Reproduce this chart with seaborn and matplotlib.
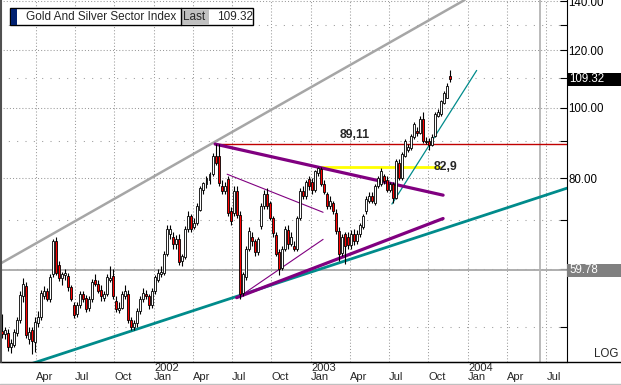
import pandas as pd
import seaborn as sns
import matplotlib.pyplot as plt
import matplotlib.dates as mdates
from matplotlib.patches import Rectangle
from matplotlib.lines import Line2D
from matplotlib.ticker import NullLocator
import matplotlib.transforms as mtrans

# weekly candles, Gold And Silver Sector Index (XAU)
weeks = pd.date_range("2001-01-12", periods=150, freq="7D")

opens = [49.3, 48.8, 49.0, 46.9, 47.2, 49.0, 51.0, 55.0, 56.8, 48.0,
         49.4, 47.6, 50.5, 51.5, 55.0, 55.9, 54.6, 59.0, 65.5, 60.8,
         58.3, 58.8, 58.6, 56.6, 53.5, 52.0, 53.5, 55.4, 54.8, 53.0,
         54.5, 58.0, 57.3, 56.2, 54.8, 55.5, 58.0, 58.6, 54.3, 52.7,
         53.0, 55.0, 55.4, 51.0, 50.0, 50.5, 52.5, 54.5, 55.5, 55.0,
         53.5, 56.0, 58.0, 59.0, 59.2, 62.9, 67.0, 66.5, 64.9, 66.0,
         61.5, 62.4, 68.0, 70.9, 68.5, 69.5, 72.4, 77.0, 78.5, 79.5,
         81.0, 85.8, 85.8, 78.0, 76.8, 79.8, 72.0, 71.6, 76.8, 71.3,
         55.7, 58.5, 64.0, 66.5, 65.5, 63.4, 68.7, 73.2, 76.0, 73.9,
         70.5, 66.9, 63.4, 60.2, 64.0, 67.8, 65.0, 64.5, 64.0, 70.5,
         76.8, 75.5, 79.8, 79.0, 77.0, 81.3, 82.3, 78.5, 76.0, 73.2,
         73.9, 71.6, 67.6, 63.2, 67.0, 66.5, 64.8, 67.0, 65.5, 67.0,
         68.5, 72.0, 74.5, 75.6, 74.0, 78.0, 78.5, 80.5, 79.5, 77.0,
         78.5, 75.1, 84.0, 80.0, 85.8, 87.5, 88.0, 91.0, 93.0, 92.3,
         96.6, 90.0, 90.0, 88.8, 91.5, 97.5, 98.0, 101.5, 103.2, 110.7]
highs = [52.0, 50.0, 49.6, 48.0, 49.6, 51.5, 56.0, 58.3, 57.5, 50.0,
         50.0, 51.5, 52.5, 56.2, 56.8, 56.5, 59.0, 66.0, 66.3, 61.5,
         59.5, 60.0, 59.2, 57.0, 54.0, 54.0, 56.0, 56.0, 55.2, 55.0,
         58.2, 59.0, 58.0, 57.0, 56.0, 59.0, 60.5, 60.0, 55.0, 54.0,
         56.0, 57.0, 56.2, 51.5, 51.0, 53.0, 55.0, 56.5, 56.2, 55.5,
         56.5, 58.8, 60.0, 60.5, 63.5, 69.0, 69.0, 67.5, 66.8, 67.0,
         63.0, 68.8, 72.0, 71.5, 70.5, 74.0, 78.0, 79.0, 80.5, 81.5,
         86.5, 89.11, 89.0, 79.5, 79.0, 80.5, 73.0, 78.0, 78.0, 72.0,
         59.5, 64.5, 68.5, 67.5, 66.0, 66.5, 74.0, 77.0, 77.5, 74.5,
         71.0, 67.5, 64.0, 64.5, 68.8, 69.0, 67.5, 65.5, 71.0, 77.5,
         78.0, 79.5, 80.5, 80.0, 82.2, 82.9, 82.8, 79.5, 76.5, 75.5,
         74.5, 72.5, 68.5, 67.0, 67.5, 67.5, 67.8, 68.0, 67.8, 69.5,
         71.5, 75.5, 76.5, 76.5, 78.5, 80.5, 82.5, 81.0, 80.5, 79.0,
         79.0, 85.0, 85.0, 87.0, 90.5, 89.0, 92.0, 95.5, 94.0, 97.5,
         98.5, 91.0, 90.8, 92.0, 98.5, 99.5, 102.5, 105.5, 108.0, 112.5]
lows = [48.3, 48.0, 46.3, 46.0, 46.8, 48.5, 50.5, 54.0, 48.3, 47.3,
        45.8, 46.1, 50.0, 51.0, 54.5, 54.2, 54.0, 58.5, 58.8, 57.8,
        57.0, 58.0, 56.0, 54.2, 51.3, 51.5, 53.0, 54.0, 52.4, 52.5,
        54.0, 56.8, 55.6, 54.3, 54.2, 55.0, 57.5, 54.5, 52.4, 52.2,
        52.8, 54.5, 50.6, 49.5, 49.5, 50.0, 52.0, 54.0, 54.5, 52.8,
        53.0, 55.5, 57.5, 58.5, 58.8, 62.5, 66.0, 64.0, 64.0, 60.8,
        60.5, 62.0, 67.5, 67.5, 68.0, 69.0, 72.0, 76.0, 77.5, 78.5,
        80.5, 83.5, 78.0, 76.0, 76.0, 71.0, 69.0, 71.0, 70.5, 54.6,
        55.0, 58.0, 63.5, 64.5, 62.5, 62.8, 68.0, 72.5, 72.5, 70.0,
        66.5, 62.5, 58.8, 59.8, 63.5, 64.0, 64.5, 63.5, 63.5, 70.0,
        75.0, 75.0, 77.0, 76.0, 76.5, 80.5, 78.0, 76.0, 72.5, 72.5,
        71.5, 67.0, 61.5, 62.5, 61.0, 64.0, 64.0, 64.8, 65.0, 66.5,
        68.0, 71.5, 74.0, 74.0, 73.5, 77.5, 78.0, 78.5, 76.5, 76.5,
        74.0, 75.0, 79.5, 79.5, 85.5, 87.0, 87.5, 90.5, 91.5, 92.0,
        89.5, 89.0, 87.5, 88.5, 91.0, 97.0, 97.5, 101.0, 103.0, 108.5]
closes = [48.8, 49.4, 46.9, 47.4, 49.2, 51.0, 55.3, 57.3, 48.7, 49.2,
          47.8, 50.8, 51.5, 55.7, 55.9, 54.6, 58.5, 65.5, 59.2, 58.3,
          59.0, 59.3, 56.6, 54.6, 51.9, 53.5, 55.4, 54.6, 52.9, 54.5,
          57.6, 57.3, 56.0, 55.0, 55.5, 58.5, 58.4, 55.0, 52.9, 53.0,
          55.5, 56.0, 51.0, 50.0, 50.6, 52.5, 54.6, 55.7, 55.0, 53.5,
          56.0, 58.5, 59.2, 59.5, 62.9, 68.2, 68.0, 64.9, 66.0, 61.4,
          62.5, 68.0, 70.9, 68.2, 69.5, 73.2, 77.5, 78.7, 80.0, 81.0,
          85.8, 84.0, 78.8, 76.8, 78.0, 71.6, 69.8, 76.8, 71.3, 55.4,
          59.0, 64.0, 67.6, 65.5, 63.4, 66.0, 73.2, 76.0, 73.2, 70.5,
          67.2, 63.0, 60.0, 64.0, 68.2, 65.0, 66.5, 64.0, 70.5, 76.8,
          75.5, 79.0, 78.0, 77.0, 81.8, 82.6, 78.5, 76.5, 73.2, 74.5,
          72.1, 67.6, 63.0, 66.5, 64.5, 64.8, 67.0, 65.5, 67.0, 69.0,
          71.0, 74.9, 75.6, 74.5, 78.0, 80.0, 81.8, 79.3, 77.0, 78.5,
          75.1, 84.5, 80.0, 86.4, 90.0, 88.3, 91.5, 95.0, 92.3, 96.6,
          90.0, 89.6, 88.8, 91.2, 98.0, 98.5, 102.0, 104.9, 107.2, 109.32]

last_value = 109.32
support_level = 59.78
high_level = 89.11
break_level = 82.9

# drawn trend lines: (dates, values)
channel_top = (["2001-01-08", "2003-12-24"], [61.0, 140.6])
channel_bottom = (["2001-03-19", "2004-08-18"], [44.4, 77.5])
short_uptrend = (["2003-07-08", "2004-01-21"], [73.7, 112.5])
wedge_top = (["2002-05-23", "2003-11-04"], [89.11, 75.8])
wedge_bottom = (["2002-07-12", "2003-11-04"], [54.8, 70.4])
inner_top = (["2002-06-20", "2003-01-29"], [81.0, 71.8])
inner_bottom = (["2002-07-19", "2003-01-29"], [55.0, 65.9])
break_span = ["2003-01-17", "2003-10-28"]
high_span = ["2002-05-23", "2004-08-18"]
marker_date = "2004-06-16"

x_start, x_end = "2001-01-08", "2004-08-18"
y_min, y_max = 44.7, 140.6
major_levels = [80, 100, 120, 140]
minor_levels = [50, 60, 70, 90, 110, 130]


def dn(d):
    return mdates.date2num(pd.to_datetime(d))


sns.set_style("white")
plt.rcParams['font.family'] = ['Liberation Sans', 'DejaVu Sans']

W, H = 621, 385
fig = plt.figure(figsize=(W / 100, H / 100), dpi=100)
ax = fig.add_axes([0, 23 / H, 567 / W, 362 / H])
ax.set_yscale("log")
ax.set_xlim(dn(x_start), dn(x_end))
ax.set_ylim(y_min, y_max)

# x axis: quarter labels left-aligned on their grid line
qticks = pd.date_range("2001-04-01", "2004-07-01", freq="QS")
ax.set_xticks(dn(qticks))
ax.set_xticklabels([(f"{d.year}\nJan" if d.month == 1 else "\n" + d.strftime("%b")) for d in qticks],
                   ha="left", fontsize=8, linespacing=0.9)
ax.set_xticks(dn(pd.date_range("2001-02-01", "2004-08-01", freq="MS")), minor=True)
ax.tick_params(axis="x", which="major", length=0, pad=0.5)
ax.tick_params(axis="x", which="minor", direction="in", length=2, width=0.6)
ax.xaxis.grid(True, which="major", color="#9a9a9a", linestyle=(0, (1, 2)), linewidth=0.75)

# y axis on the right, log scale
yt = sorted(major_levels + minor_levels)
ax.yaxis.set_minor_locator(NullLocator())
ax.set_yticks(yt)
ax.set_yticklabels([f"{v:.2f}" if v in major_levels else "" for v in yt], fontsize=8.3)
ax.yaxis.tick_right()
ax.tick_params(axis="y", direction="in", length=5, pad=1, colors="black")
for v in major_levels:
    ax.axhline(v, color="#9a9a9a", linestyle=(0, (1, 2)), linewidth=0.75, zorder=0)
for v in minor_levels:
    ax.axhline(v, color="#9a9a9a", linestyle=(0, (1, 7)), linewidth=0.75, zorder=0)

for s in ("top", "left"):
    ax.spines[s].set_visible(False)
ax.spines["right"].set_color("black")
ax.spines["bottom"].set_color("black")

# horizontal levels and marker line
ax.axhline(support_level, color="#a8a8a8", lw=1.3, zorder=1)
ax.axvline(dn(marker_date), color="#b4b4b4", lw=1.3, zorder=1)
sns.lineplot(x=dn(high_span), y=[high_level, high_level], ax=ax, color="#c00000", lw=1.0)
sns.lineplot(x=dn(break_span), y=[break_level, break_level], ax=ax, color="#ffff00", lw=2.0)

# trend lines
for (dates, vals), col, lw in [(channel_top, "#a6a6a6", 1.8),
                               (channel_bottom, "#008b8b", 2.0),
                               (short_uptrend, "#008b8b", 0.9),
                               (wedge_top, "#800080", 2.3),
                               (wedge_bottom, "#800080", 2.3),
                               (inner_top, "#800080", 0.8),
                               (inner_bottom, "#800080", 0.8)]:
    sns.lineplot(x=dn(dates), y=vals, ax=ax, color=col, lw=lw, estimator=None, sort=False)

# candles
xs = dn(weeks)
ax.vlines(xs, lows, highs, color="black", lw=0.8, zorder=3)
bottoms = [min(o, c) for o, c in zip(opens, closes)]
heights = [max(abs(c - o), 0.15) for o, c in zip(opens, closes)]
colors = ["red" if c < o else "white" for o, c in zip(opens, closes)]
ax.bar(xs, heights, bottom=bottoms, width=4.6, color=colors, edgecolor="black",
       linewidth=0.6, zorder=4)

# level labels
ax.text(dn("2003-04-12"), 91.6, "89,11", ha="center", va="center", fontsize=8.8, fontweight="bold")
ax.text(dn("2003-10-12"), 82.9, "82,9", ha="left", va="center", fontsize=8.8, fontweight="bold", zorder=6)

# right-side value boxes
bt = mtrans.blended_transform_factory(ax.transAxes, ax.transData)
for val, bg in [(last_value, "black"), (support_level, "#808080")]:
    ax.add_patch(Rectangle((1.0, val / 1.021), 54 / 567, val * 1.021 - val / 1.021,
                           transform=bt, facecolor=bg, edgecolor="none", clip_on=False, zorder=5))
    ax.text(1.004, val, f"{val:.2f}", transform=bt, color="white", fontsize=8.3,
            va="center", ha="left", zorder=6)

# frame bits
fig.add_artist(Line2D([0, 1], [23 / H, 23 / H], color="black", lw=1.0))
fig.add_artist(Line2D([0.5 / W, 0.5 / W], [23 / H, 1], color="#505050", lw=1.5))
fig.add_artist(Line2D([0, 1], [0.7 / H, 0.7 / H], color="#c0c0c0", lw=1.0))
fig.text(618 / W, 1 - 354 / H, "LOG", ha="right", va="center", fontsize=8.3)


def fx(x):
    return x / W


def fy(y):
    return 1 - y / H


# title box
fig.add_artist(Rectangle((fx(10), fy(25)), fx(243), 17 / H, facecolor="white",
                         edgecolor="black", lw=1.0, transform=fig.transFigure))
fig.add_artist(Rectangle((fx(11), fy(24.5)), fx(6), 15.5 / H, facecolor="#002070",
                         edgecolor="none", transform=fig.transFigure))
fig.add_artist(Rectangle((fx(181), fy(24.5)), fx(28), 15.5 / H, facecolor="#c0c0c0",
                         edgecolor="none", transform=fig.transFigure))
fig.add_artist(Line2D([fx(181), fx(181)], [fy(25), fy(8)], color="black", lw=1.0))
fig.text(fx(26), fy(16.5), "Gold And Silver Sector Index", fontsize=8.5, va="center", ha="left")
fig.text(fx(183), fy(16.5), "Last", fontsize=8.5, va="center", ha="left")
fig.text(fx(217), fy(16.5), f"{last_value:.2f}", fontsize=8.5, va="center", ha="left")

fig.savefig("out.png", dpi=100, facecolor="white")
